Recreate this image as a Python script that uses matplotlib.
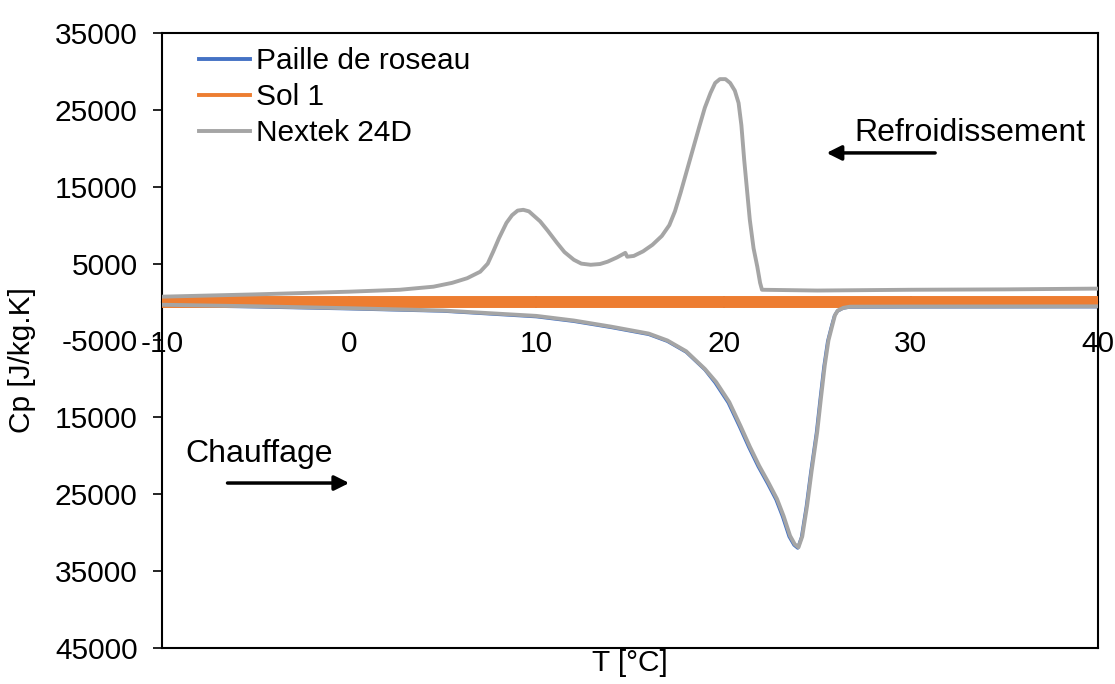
import matplotlib.pyplot as plt
from matplotlib.lines import Line2D

plt.rcParams['font.family'] = ['Liberation Sans', 'DejaVu Sans']
plt.rcParams['axes.unicode_minus'] = False

# Nextek 24D : refroidissement (branche haute)
t_refr = [-10, -5, 0, 2.7, 4.5, 5.5, 6.3, 7.0, 7.4, 7.7, 8.0, 8.4, 8.7, 9.0, 9.3, 9.6,
          10.2, 10.6, 11.1, 11.5, 12.0, 12.4, 12.9, 13.4, 13.8, 14.3, 14.75, 14.85, 15.2,
          15.7, 16.2, 16.7, 17.1, 17.4, 17.7, 18.2, 18.7, 19.0, 19.3, 19.55, 19.8, 20.1,
          20.35, 20.6, 20.8, 20.95, 21.1, 21.4, 21.6, 21.8, 21.95, 22.05, 25, 30, 35, 40]
cp_refr = [700, 1000, 1350, 1600, 2000, 2500, 3100, 3950, 5000, 6600, 8300, 10300, 11300,
           11900, 12000, 11800, 10500, 9300, 7700, 6500, 5500, 5000, 4850, 4950, 5250, 5800,
           6400, 5900, 6000, 6600, 7450, 8600, 10000, 11800, 14200, 18500, 22800, 25300,
           27200, 28500, 29000, 29000, 28500, 27500, 25900, 23000, 18500, 10700, 7000, 4600,
           2500, 1600, 1500, 1600, 1650, 1750]

# Nextek 24D : chauffage (branche basse)
t_chauf = [-10, -5, 0, 5, 10, 12, 14, 16, 17, 18, 19, 19.6, 20.3, 20.9, 21.4, 21.9, 22.4,
           22.85, 23.2, 23.55, 23.8, 24.0, 24.2, 24.46, 24.7, 25.0, 25.2, 25.4, 25.6, 25.8,
           25.95, 26.1, 26.4, 26.75, 30, 35, 40]
cp_chauf = [-350, -550, -800, -1100, -1800, -2400, -3200, -4100, -5000, -6400, -8700,
            -10400, -13000, -16100, -18800, -21300, -23500, -25600, -27800, -30400, -31500,
            -31900, -30500, -26500, -22000, -16900, -12500, -8300, -5000, -3100, -1700,
            -1100, -750, -600, -580, -570, -560]

# Paille de roseau (presque confondue avec Nextek 24D au chauffage)
t_paille = [-10, -5, 0, 5, 10, 12, 14, 16, 17, 18, 19, 19.55, 20.25, 20.85, 21.35, 21.85,
            22.35, 22.8, 23.15, 23.5, 23.76, 23.96, 24.16, 24.42, 24.66, 24.96, 25.16,
            25.36, 25.56, 25.76, 25.92, 26.07, 26.37, 26.72, 30, 35, 40]
cp_paille = [-420, -620, -870, -1170, -1900, -2500, -3300, -4200, -5100, -6500, -8800,
             -10500, -13100, -16200, -18900, -21400, -23600, -25700, -27900, -30500, -31600,
             -32000, -30600, -26600, -22100, -17000, -12600, -8400, -5100, -3200, -1800,
             -1200, -800, -650, -630, -620, -610]

# Sol 1
t_sol = [-10, 0, 10, 20, 30, 40]
cp_sol = [-50, -50, -50, -50, -50, -50]

yticks = [35000, 25000, 15000, 5000, -5000, -15000, -25000, -35000, -45000]
ytick_labels = ['35000', '25000', '15000', '5000', '-5000', '15000', '25000', '35000', '45000']
xticks = [-10, 0, 10, 20, 30, 40]

c_blue = '#4472C4'
c_orange = '#ED7D31'
c_gray = '#A5A5A5'
fs = 21.5

fig = plt.figure(figsize=(11.15, 6.84), dpi=100)
ax = fig.add_axes([162 / 1115, 1 - 648 / 684, (1098 - 162) / 1115, (648 - 33) / 684])

ax.plot(t_paille, cp_paille, color=c_blue, lw=2.4, zorder=2)
ax.plot(t_sol, cp_sol, color=c_orange, lw=8.6, solid_capstyle='butt', zorder=3)
ax.plot(t_refr, cp_refr, color=c_gray, lw=2.8, zorder=4)
ax.plot(t_chauf, cp_chauf, color=c_gray, lw=2.8, zorder=4)

ax.set_xlim(-10, 40)
ax.set_ylim(-45000, 35000)
ax.set_yticks(yticks)
ax.set_yticklabels(ytick_labels)
ax.set_xticks(xticks)

ax.spines['bottom'].set_position(('data', 0))
for s in ['left', 'right', 'top', 'bottom']:
    ax.spines[s].set_linewidth(1.5)
    ax.spines[s].set_color('black')
ax.axhline(-45000, color='black', lw=1.5, clip_on=False, zorder=5)

ax.tick_params(axis='y', direction='out', length=6.5, width=1.2, pad=11, labelsize=fs)
ax.tick_params(axis='x', direction='inout', length=8, width=1.2, pad=16, labelsize=fs)

fig.text(630 / 1115, 1 - 663 / 684, 'T [°C]', ha='center', va='center', fontsize=fs)
fig.text(22 / 1115, 1 - 360 / 684, 'Cp [J/kg.K]', ha='center', va='center',
         rotation=90, fontsize=fs)

handles = [Line2D([], [], color=c_blue, lw=2.8),
           Line2D([], [], color=c_orange, lw=2.8),
           Line2D([], [], color=c_gray, lw=2.8)]
ax.legend(handles, ['Paille de roseau', 'Sol 1', 'Nextek 24D'], loc='upper left',
          bbox_to_anchor=(199 / 1115, 1 - 47 / 684), bbox_transform=fig.transFigure,
          frameon=False, fontsize=fs, handlelength=1.7, handletextpad=0.2,
          labelspacing=0.27, borderpad=0, borderaxespad=0)

ax.text(27.0, 22000, 'Refroidissement', fontsize=23, va='center', ha='left')
ax.annotate('', xy=(25.5, 19400), xytext=(31.3, 19400),
            arrowprops=dict(arrowstyle='-|>', color='black', lw=2.5, mutation_scale=22,
                            shrinkA=0, shrinkB=0))
ax.text(-8.77, -19780, 'Chauffage', fontsize=23, va='center', ha='left')
ax.annotate('', xy=(0, -23540), xytext=(-6.5, -23540),
            arrowprops=dict(arrowstyle='-|>', color='black', lw=2.5, mutation_scale=22,
                            shrinkA=0, shrinkB=0))

fig.savefig('out.png', dpi=100)
